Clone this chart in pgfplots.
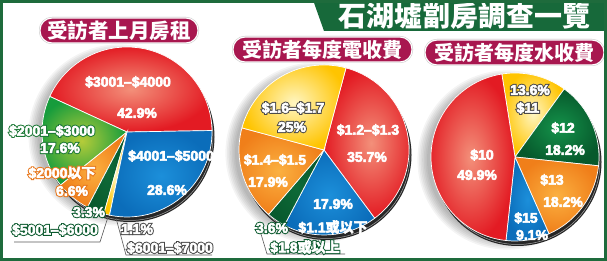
\documentclass[border=0pt]{standalone}
\usepackage{pgfplots}
\pgfplotsset{compat=1.18}
\usepackage{fontspec}
\setmainfont{Liberation Sans}
\newfontfamily\cjk{Noto Sans CJK TC}
\newfontfamily\olfont{Liberation Sans Bold}[FakeBold=18]
\newfontfamily\olcjk{Noto Sans CJK TC Bold}[FakeBold=18]
\newfontfamily\infont{Liberation Sans Bold}[FakeBold=4]
\newfontfamily\incjk{Noto Sans CJK TC Bold}[FakeBold=4]
\newcommand\cjO[1]{{\olcjk #1}}
\newcommand\cjI[1]{{\incjk #1}}

\definecolor{framegreen}{HTML}{1E6B3C}
\definecolor{banner}{HTML}{17693A}
\definecolor{pill}{HTML}{A8174F}
\definecolor{redL}{HTML}{F3907A}\definecolor{redD}{HTML}{E31B23}
\definecolor{blueL}{HTML}{1C8FDA}\definecolor{blueD}{HTML}{0B6DBA}
\definecolor{orangeL}{HTML}{FBB040}\definecolor{orangeD}{HTML}{F07F1A}
\definecolor{yellowL}{HTML}{FFF6C2}\definecolor{yellowD}{HTML}{FFC400}
\definecolor{dkgreenL}{HTML}{14924A}\definecolor{dkgreenD}{HTML}{07592C}
\definecolor{greenL}{HTML}{B5CC3A}\definecolor{greenD}{HTML}{169C3C}
\definecolor{dgreenL}{HTML}{0E6A38}\definecolor{dgreenD}{HTML}{085A2E}
\definecolor{olgreen}{HTML}{1E7A38}
\definecolor{olorange}{HTML}{E8761A}
\definecolor{oldkgreen}{HTML}{0B5A2E}
\definecolor{olgray}{HTML}{4A4A4A}

\pgfplotsset{pieaxis/.style={hide axis, scale only axis, anchor=center,
  xmin=-1,xmax=1,ymin=-1,ymax=1, clip=false}}

% one slice: #1 colour base, #2 value, #3 total, #4 direction (+1 ccw, -1 cw)
\newcommand\slice[4]{%
  \pgfmathsetmacro\endang{\curang+(#4)*(#2)/(#3)*360}%
  \path[inner color=#1L, outer color=#1D, draw=white, line width=0.7pt]
    (axis cs:0,0) -- ++(\curang:\pieR) arc[start angle=\curang, end angle=\endang, radius=\pieR] -- cycle;
  \global\let\curang\endang}
\newcommand\pieshadow{%
  \foreach \s in {0,1,...,6} {\fill[black, opacity=0.045] ([xshift=-8pt,yshift=-3pt]axis cs:0,0) circle[radius={\pieR-4pt+\s*1.6pt}];}
  \fill[black!85] ([xshift=2.5pt,yshift=-5pt]axis cs:0,0) circle[radius=\pieR];
  \draw[gray!70, line width=0.5pt] ([xshift=2.5pt,yshift=-5pt]axis cs:0,0) circle[radius=\pieR-1.5pt];}

% outlined label: position, outline colour, text
\newcommand\olab[3]{%
  \node[inner sep=0pt, text=#2, font=\olfont\fontsize{14}{16}\selectfont] at (#1) {\let\cj\cjO #3};
  \node[inner sep=0pt, text=white, font=\infont\fontsize{14}{16}\selectfont] at (#1) {\let\cj\cjI #3};}
% inner white label
\newcommand\ilab[2]{%
  \node[inner sep=0pt, text=white, font=\infont\fontsize{14}{16}\selectfont] at (#1) {\let\cj\cjI #2};}

\begin{document}
\begin{tikzpicture}
\begin{scope}[x=1pt,y=1pt]
\useasboundingbox (0,0) rectangle (607,261);
\fill[white] (0,0) rectangle (607,261);
% banner
\fill[banner] (313,261) -- (607,261) -- (607,230) -- (324,230) -- cycle;
\fill[framegreen] (0,258) rectangle (607,261);
\node[text=white, inner sep=0pt, font=\cjk\bfseries\fontsize{28}{28}\selectfont] at (464,245) {石湖墟劏房調查一覽};
\end{scope}

% pie 1: monthly rent
\begin{axis}[pieaxis, at={(127pt,129pt)}, width=170pt, height=170pt]
\pgfplotsextra{%
  \def\pieR{85pt}\pieshadow
  \gdef\curang{1}%
  \slice{red}{42.9}{100.1}{1}%
  \slice{green}{17.6}{100.1}{1}%
  \slice{orange}{6.6}{100.1}{1}%
  \slice{dgreen}{3.3}{100.1}{1}%
  \slice{yellow}{1.1}{100.1}{1}%
  \slice{blue}{28.6}{100.1}{1}%
}
\end{axis}

% pie 2: electricity
\begin{axis}[pieaxis, at={(324pt,111pt)}, width=170pt, height=170pt]
\pgfplotsextra{%
  \def\pieR{85pt}\pieshadow
  \gdef\curang{75}%
  \slice{red}{35.7}{100.1}{-1}%
  \slice{blue}{17.9}{100.1}{-1}%
  \slice{dgreen}{3.6}{100.1}{-1}%
  \slice{orange}{17.9}{100.1}{-1}%
  \slice{yellow}{25}{100.1}{-1}%
}
\end{axis}

% pie 3: water
\begin{axis}[pieaxis, at={(515pt,104pt)}, width=168pt, height=168pt]
\pgfplotsextra{%
  \def\pieR{84pt}\pieshadow
  \gdef\curang{99}%
  \slice{yellow}{13.6}{109}{-1}%
  \slice{dkgreen}{18.2}{109}{-1}%
  \slice{orange}{18.2}{109}{-1}%
  \slice{blue}{9.1}{109}{-1}%
  \slice{red}{49.9}{109}{-1}%
}
\end{axis}

\begin{scope}[x=1pt,y=1pt]
% title pills
\foreach \xa/\ya/\xb/\yb in {40/218/198/243, 233/199/412/224, 425/196/604/221} {
  \draw[gray!50, line width=2pt, rounded corners=12pt] (\xa,\ya) rectangle (\xb,\yb);
  \draw[fill=pill, draw=white, line width=1.2pt, rounded corners=12pt] (\xa,\ya) rectangle (\xb,\yb);}
\node[text=white, inner sep=0pt, font=\cjk\bfseries\fontsize{20.5}{20.5}\selectfont] at (119,230.5) {受訪者上月房租};
\node[text=white, inner sep=0pt, font=\cjk\bfseries\fontsize{20}{20}\selectfont] at (322.5,211.5) {受訪者每度電收費};
\node[text=white, inner sep=0pt, font=\cjk\bfseries\fontsize{20}{20}\selectfont] at (514.5,208.5) {受訪者每度水收費};

% leader lines
\draw[black!65, line width=0.6pt] (14,19) -- (100,19) -- (108,44);
\draw[black!65, line width=0.6pt] (116,43) -- (126,6) -- (212,6);
\draw[black!65, line width=0.6pt] (261,27) -- (267,7) -- (345,7);

% pie 1 labels
\ilab{128,179}{\$3001–\$4000}
\ilab{137,148}{42.9\%}
\ilab{171,105}{\$4001–\$5000}
\ilab{167,71}{28.6\%}
\olab{52,130}{olgreen}{\$2001–\$3000}
\olab{60,113}{olgreen}{17.6\%}
\olab{62,88}{olorange}{\$2000\cj{以下}}
\olab{72,70}{olorange}{6.6\%}
\olab{89,49}{oldkgreen}{3.3\%}
\olab{55,31}{oldkgreen}{\$5001–\$6000}
\olab{137,32}{olgray}{1.1\%}
\olab{170,13}{olgray}{\$6001–\$7000}

% pie 2 labels
\olab{293,153}{olgray}{\$1.6–\$1.7}
\olab{292,134}{olgray}{25\%}
\ilab{368,131}{\$1.2–\$1.3}
\ilab{367,104}{35.7\%}
\ilab{275,101}{\$1.4–\$1.5}
\ilab{268,79}{17.9\%}
\ilab{333,57}{17.9\%}
\ilab{333,34}{\$1.1\cj{或以下}}
\olab{272,33}{oldkgreen}{3.6\%}
\olab{305,14}{oldkgreen}{\$1.8\cj{或以上}}

% pie 3 labels
\olab{530,171}{olgray}{13.6\%}
\olab{528,153}{olgray}{\$11}
\ilab{563,133}{\$12}
\ilab{565,111}{18.2\%}
\ilab{482,106}{\$10}
\ilab{477,86}{49.9\%}
\ilab{552,81}{\$13}
\ilab{563,59}{18.2\%}
\ilab{526,43}{\$15}
\ilab{532,26}{9.1\%}

% frame
\draw[framegreen, line width=3pt] (1.5,1.5) rectangle (605.5,259.5);
\end{scope}
\end{tikzpicture}
\end{document}
